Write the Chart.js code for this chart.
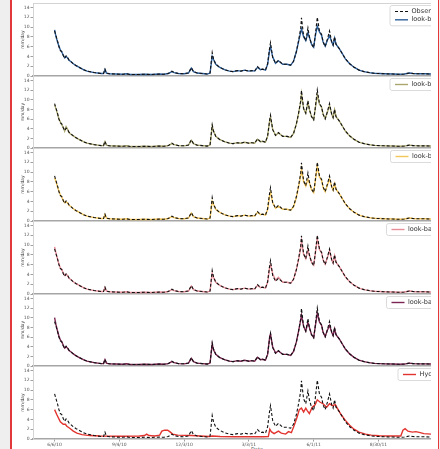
<!DOCTYPE html>
<html>
<head>
<meta charset="utf-8">
<script src="https://cdn.jsdelivr.net/npm/chart.js@4.4.1/dist/chart.umd.min.js"></script>
<style>
    html, body { margin: 0; padding: 0; width: 440px; height: 449px; overflow: hidden; background: #fff; }
    .strip { position: absolute; top: 0; height: 449px; background: #efefef; }
    .edge { position: absolute; top: 0; width: 1.5px; height: 449px; background: #e2383c; }
    .xtitle { position: absolute; left: 257px; top: 446px; transform: translateX(-50%); font: 5px 'DejaVu Sans'; color: #444; }
</style>
</head>
<body>
<div class="strip" style="left:0;width:10px"></div>
<div class="edge" style="left:10px"></div>
<div class="edge" style="left:437.5px"></div>
<div class="strip" style="left:439px;width:1px"></div>
<div class="xtitle">Date</div>
<script>
// x values are days counted from 6/6/10
const tickDays = [0, 90, 180, 270, 360, 450];
const tickLabels = ['6/6/10', '9/4/10', '12/3/10', '3/3/11', '6/1/11', '8/30/11'];
const yTicks = [0, 2, 4, 6, 8, 10, 12, 14];

const days = [
    0, 2, 4, 6, 8, 10, 12, 14, 16, 18,
    20, 23, 26, 30, 35, 40, 45, 50, 55, 60,
    65, 68, 70, 72, 76, 85, 95, 100, 105, 115,
    125, 135, 145, 152, 158, 163, 166, 172, 180, 186,
    190, 193, 198, 205, 212, 216, 219, 221, 224, 229,
    236, 243, 248, 254, 259, 264, 270, 274, 278, 282,
    286, 289, 293, 296, 299, 300, 303, 307, 311, 317,
    323, 328, 332, 336, 339, 342, 343, 346, 349, 352,
    354, 357, 360, 362, 365, 368, 371, 373, 376, 379,
    382, 385, 387, 389, 391, 396, 400, 404, 410, 416,
    423, 430, 437, 444, 458, 470, 479, 486, 493, 498,
    506, 515, 523
];

const observed = [
    9.2, 8.2, 7.2, 6.0, 5.2, 5.0, 4.2, 3.6, 4.1, 3.8,
    3.3, 2.9, 2.5, 2.1, 1.7, 1.3, 1.0, 0.85, 0.7, 0.6,
    0.5, 0.5, 1.4, 0.6, 0.45, 0.4, 0.35, 0.45, 0.3, 0.3,
    0.35, 0.3, 0.4, 0.35, 0.5, 1.0, 0.7, 0.5, 0.45, 0.6,
    1.7, 0.9, 0.6, 0.5, 0.4, 0.6, 4.8, 3.4, 2.4, 1.8,
    1.3, 1.0, 0.9, 1.1, 1.0, 1.2, 1.0, 1.1, 1.0, 1.9,
    1.3, 1.4, 1.2, 2.5, 6.0, 6.8, 3.8, 2.6, 3.2, 2.4,
    2.4, 2.2, 3.0, 5.0, 7.2, 9.8, 11.9, 8.2, 7.2, 9.8,
    8.0, 6.5, 5.8, 8.0, 12.0, 9.2, 8.5, 7.0, 6.0, 7.5,
    9.2, 7.0, 6.3, 8.0, 6.5, 5.5, 4.5, 3.5, 2.5, 1.8,
    1.2, 0.9, 0.7, 0.55, 0.45, 0.4, 0.35, 0.4, 0.6, 0.5,
    0.45, 0.45, 0.4
];

const lookBack1 = [
    9.4, 8.0, 7.0, 6.1, 5.3, 4.9, 4.3, 3.7, 4.0, 3.7,
    3.2, 2.9, 2.5, 2.1, 1.7, 1.3, 1.0, 0.85, 0.7, 0.6,
    0.5, 0.5, 1.3, 0.6, 0.45, 0.4, 0.35, 0.45, 0.3, 0.3,
    0.35, 0.3, 0.4, 0.35, 0.5, 0.9, 0.7, 0.5, 0.45, 0.6,
    1.6, 0.9, 0.6, 0.5, 0.4, 0.6, 4.0, 3.3, 2.4, 1.8,
    1.3, 1.0, 0.9, 1.1, 1.0, 1.2, 1.0, 1.1, 1.0, 1.8,
    1.3, 1.4, 1.2, 2.4, 5.6, 6.0, 3.9, 2.6, 3.1, 2.4,
    2.4, 2.2, 3.0, 5.0, 7.0, 9.0, 9.6, 8.0, 7.2, 8.8,
    7.9, 6.5, 5.9, 8.0, 10.2, 9.0, 8.3, 7.0, 6.1, 7.3,
    8.2, 7.0, 6.3, 7.7, 6.5, 5.5, 4.5, 3.5, 2.5, 1.8,
    1.2, 0.9, 0.7, 0.55, 0.45, 0.4, 0.35, 0.4, 0.6, 0.5,
    0.45, 0.45, 0.4
];

const lookBack2 = [
    8.9, 8.1, 7.1, 6.0, 5.4, 4.8, 4.3, 3.5, 4.4, 3.9,
    3.2, 2.8, 2.5, 2.1, 1.7, 1.3, 1.0, 0.85, 0.7, 0.6,
    0.5, 0.5, 1.3, 0.6, 0.45, 0.4, 0.35, 0.45, 0.3, 0.3,
    0.35, 0.3, 0.4, 0.35, 0.5, 0.9, 0.7, 0.5, 0.45, 0.6,
    1.6, 0.9, 0.6, 0.5, 0.4, 0.6, 4.4, 3.4, 2.4, 1.8,
    1.3, 1.0, 0.9, 1.1, 1.0, 1.2, 1.0, 1.1, 1.0, 1.8,
    1.3, 1.4, 1.2, 2.4, 5.8, 6.3, 3.9, 2.6, 3.1, 2.4,
    2.4, 2.2, 3.0, 5.0, 7.1, 9.6, 11.2, 8.1, 7.2, 9.4,
    8.0, 6.5, 5.9, 8.0, 11.0, 9.1, 8.4, 7.0, 6.1, 7.4,
    8.8, 7.0, 6.3, 7.9, 6.5, 5.5, 4.5, 3.5, 2.5, 1.8,
    1.2, 0.9, 0.7, 0.55, 0.45, 0.4, 0.35, 0.4, 0.6, 0.5,
    0.45, 0.45, 0.4
];

const lookBack3 = [
    8.8, 8.0, 7.0, 6.1, 5.3, 4.9, 4.2, 3.7, 3.9, 3.7,
    3.2, 2.9, 2.5, 2.1, 1.7, 1.3, 1.0, 0.85, 0.7, 0.6,
    0.5, 0.5, 1.3, 0.6, 0.45, 0.4, 0.35, 0.45, 0.3, 0.3,
    0.35, 0.3, 0.4, 0.35, 0.5, 0.9, 0.7, 0.5, 0.45, 0.6,
    1.6, 0.9, 0.6, 0.5, 0.4, 0.6, 4.0, 3.3, 2.4, 1.8,
    1.3, 1.0, 0.9, 1.1, 1.0, 1.2, 1.0, 1.1, 1.0, 1.8,
    1.3, 1.4, 1.2, 2.3, 5.5, 5.9, 3.7, 2.6, 3.0, 2.4,
    2.4, 2.2, 2.9, 4.8, 7.0, 9.3, 10.6, 8.0, 7.1, 8.5,
    7.8, 6.4, 5.8, 7.9, 11.2, 9.0, 8.3, 6.9, 6.0, 7.3,
    8.6, 7.0, 6.3, 7.6, 6.5, 5.5, 4.5, 3.5, 2.5, 1.8,
    1.2, 0.9, 0.7, 0.55, 0.45, 0.4, 0.35, 0.4, 0.6, 0.5,
    0.45, 0.45, 0.4
];

const lookBack4 = [
    9.6, 8.3, 7.2, 6.1, 5.3, 5.0, 4.3, 3.8, 4.0, 3.8,
    3.2, 2.9, 2.5, 2.1, 1.7, 1.3, 1.0, 0.85, 0.7, 0.6,
    0.5, 0.5, 1.3, 0.6, 0.45, 0.4, 0.35, 0.45, 0.3, 0.3,
    0.35, 0.3, 0.4, 0.35, 0.5, 0.9, 0.7, 0.5, 0.45, 0.6,
    1.6, 0.9, 0.6, 0.5, 0.4, 0.6, 4.2, 3.3, 2.4, 1.8,
    1.3, 1.0, 0.9, 1.1, 1.0, 1.2, 1.0, 1.1, 1.0, 1.8,
    1.3, 1.4, 1.2, 2.4, 5.7, 6.0, 4.2, 2.8, 3.4, 2.4,
    2.4, 2.2, 3.0, 5.0, 7.0, 9.4, 10.8, 8.1, 7.2, 9.0,
    7.9, 6.5, 5.9, 8.0, 11.3, 9.1, 8.4, 7.0, 6.1, 7.4,
    8.8, 7.0, 6.3, 7.8, 6.5, 5.5, 4.5, 3.5, 2.5, 1.8,
    1.2, 0.9, 0.7, 0.55, 0.45, 0.4, 0.35, 0.4, 0.6, 0.5,
    0.45, 0.45, 0.4
];

const lookBack5 = [
    10.0, 8.5, 7.3, 6.2, 5.4, 5.0, 4.3, 3.7, 4.0, 3.7,
    3.2, 2.9, 2.5, 2.1, 1.7, 1.3, 1.0, 0.85, 0.7, 0.6,
    0.5, 0.5, 1.3, 0.6, 0.45, 0.4, 0.35, 0.45, 0.3, 0.3,
    0.35, 0.3, 0.4, 0.35, 0.5, 0.9, 0.7, 0.5, 0.45, 0.6,
    1.6, 0.9, 0.6, 0.5, 0.4, 0.6, 4.5, 3.3, 2.4, 1.8,
    1.3, 1.0, 0.9, 1.1, 1.0, 1.2, 1.0, 1.1, 1.0, 1.8,
    1.3, 1.4, 1.2, 2.4, 6.2, 6.6, 4.0, 2.7, 3.1, 2.4,
    2.4, 2.2, 3.0, 5.0, 7.2, 9.6, 10.5, 8.2, 7.2, 9.0,
    8.0, 6.5, 5.9, 8.0, 11.0, 9.1, 8.4, 7.0, 6.1, 7.4,
    8.4, 7.0, 6.3, 7.7, 6.5, 5.5, 4.5, 3.5, 2.5, 1.8,
    1.2, 0.9, 0.7, 0.55, 0.45, 0.4, 0.35, 0.4, 0.6, 0.5,
    0.45, 0.45, 0.4
];

const hydroDays = [
    0, 3, 8, 12, 15, 17, 21, 26, 31, 38,
    49, 63, 91, 118, 125, 128, 131, 139, 146, 149,
    153, 157, 160, 164, 171, 181, 190, 202, 215, 219,
    230, 250, 270, 290, 297, 299, 301, 305, 311, 315,
    321, 325, 329, 333, 337, 340, 343, 346, 349, 351,
    354, 358, 362, 365, 369, 373, 378, 382, 386, 390,
    394, 398, 404, 410, 416, 423, 432, 440, 451, 465,
    479, 481, 484, 487, 491, 497, 502, 508, 513, 523
];

const hydro = [
    6.0, 5.0, 3.5, 3.0, 3.0, 2.6, 2.2, 1.6, 1.2, 0.9,
    0.7, 0.6, 0.55, 0.6, 0.7, 1.0, 0.7, 0.6, 0.8, 1.6,
    1.8, 1.8, 1.5, 1.0, 0.8, 0.75, 0.7, 0.6, 0.5, 0.6,
    0.5, 0.45, 0.45, 0.45, 0.5, 2.0, 1.5, 1.1, 1.6, 1.2,
    1.0, 1.5, 1.3, 2.8, 4.5, 6.0, 6.3, 5.5, 6.3, 5.8,
    5.2, 6.5, 7.0, 8.0, 7.5, 7.2, 6.5, 7.2, 6.8, 7.0,
    6.0, 5.0, 3.8, 2.8, 2.0, 1.4, 1.0, 0.8, 0.65, 0.6,
    0.6, 0.6, 1.8, 2.1, 1.6, 1.4, 1.5, 1.3, 1.1, 1.0
];

const panels = [
    { label: 'look-back 1 day', x: days, y: lookBack1, color: '#2c5e9a', obsInLegend: true, legendLeft: 390 },
    { label: 'look-back 2 days', x: days, y: lookBack2, color: '#aaa66e', legendLeft: 390 },
    { label: 'look-back 3 days', x: days, y: lookBack3, color: '#f4c65a', legendLeft: 390.5 },
    { label: 'look-back 4 days', x: days, y: lookBack4, color: '#e78d98', legendLeft: 386.5 },
    { label: 'look-back 5 days', x: days, y: lookBack5, color: '#7c2452', legendLeft: 386.5 },
    { label: 'Hydrologic model', x: hydroDays, y: hydro, color: '#e2342f', legendLeft: 398 }
];

const panelEdges = [3, 76, 148, 221, 294, 366, 439];
const FONT = 'DejaVu Sans';

const toPoints = (xs, ys) => xs.map((d, i) => ({ x: d, y: ys[i] }));

// matplotlib-like legend box, allowed to run past the canvas edge
const panelLegend = {
    id: 'panelLegend',
    afterDraw(chart, args, opts) {
        const ctx = chart.ctx;
        const items = chart.data.datasets
            .filter(d => d.legendRow !== undefined)
            .sort((a, b) => a.legendRow - b.legendRow);
        const rowH = 8.3;
        const h = 12 + (items.length - 1) * rowH;
        const x0 = opts.left, y0 = opts.top;
        ctx.save();
        ctx.beginPath();
        ctx.roundRect(x0, y0, 110, h, 2);
        ctx.fillStyle = 'rgba(255,255,255,0.85)';
        ctx.fill();
        ctx.strokeStyle = '#d2d2d2';
        ctx.lineWidth = 0.8;
        ctx.stroke();
        ctx.font = `6.5px '${FONT}'`;
        ctx.textBaseline = 'middle';
        items.forEach((d, i) => {
            const y = y0 + 6 + i * rowH;
            ctx.beginPath();
            ctx.setLineDash(d.borderDash || []);
            ctx.strokeStyle = d.borderColor;
            ctx.lineWidth = d.borderWidth;
            ctx.moveTo(x0 + 5, y);
            ctx.lineTo(x0 + 18, y);
            ctx.stroke();
            ctx.setLineDash([]);
            ctx.fillStyle = '#333';
            ctx.fillText(d.label, x0 + 21.5, y);
        });
        ctx.restore();
    }
};

panels.forEach((p, k) => {
    const last = k === panels.length - 1;
    const top = panelEdges[k];
    const bottom = panelEdges[k + 1];
    const canvasTop = top - 4;
    const canvasH = last ? 95 : (bottom - top) + 8;

    const cv = document.createElement('canvas');
    cv.width = 420;
    cv.height = canvasH;
    cv.style.cssText = `position:absolute;left:11px;top:${canvasTop}px;width:420px;height:${canvasH}px;`;
    document.body.appendChild(cv);

    const obsSet = {
        label: 'Observed',
        data: toPoints(days, observed),
        borderColor: '#111',
        borderWidth: 1.1,
        borderDash: [3, 2],
        pointRadius: 0,
        fill: false
    };
    if (p.obsInLegend) obsSet.legendRow = 0;

    const modelSet = {
        label: p.label,
        data: toPoints(p.x, p.y),
        borderColor: p.color,
        borderWidth: 1.4,
        pointRadius: 0,
        fill: false,
        legendRow: 1
    };

    new Chart(cv.getContext('2d'), {
        type: 'line',
        data: { datasets: [obsSet, modelSet] },
        plugins: [panelLegend],
        options: {
            responsive: false,
            animation: false,
            events: [],
            layout: { padding: { top: 4, bottom: last ? 0 : 4, left: 0, right: 0 } },
            plugins: {
                legend: { display: false },
                tooltip: { enabled: false },
                panelLegend: { left: p.legendLeft - 11, top: top + 2.5 - canvasTop }
            },
            scales: {
                x: {
                    type: 'linear',
                    min: -30,
                    max: 523,
                    afterBuildTicks: s => { s.ticks = tickDays.map(v => ({ value: v })); },
                    afterFit: s => { s.height = last ? 18 : 0; },
                    ticks: {
                        display: last,
                        autoSkip: false,
                        maxRotation: 0,
                        padding: 0.5,
                        color: '#555',
                        font: { family: FONT, size: 4.5 },
                        callback: v => tickLabels[tickDays.indexOf(v)]
                    },
                    grid: { display: last, drawOnChartArea: false, tickLength: 2.5, color: '#777', tickWidth: 0.7 },
                    border: { display: true, color: '#a6a6a6', width: 1.5 }
                },
                xTop: {
                    type: 'linear',
                    position: 'top',
                    display: k === 0,
                    afterFit: s => { s.height = 0; },
                    ticks: { display: false },
                    grid: { display: false },
                    border: { display: true, color: '#d4d4d4', width: 1 }
                },
                y: {
                    min: 0,
                    max: 14.9,
                    afterBuildTicks: s => { s.ticks = yTicks.map(v => ({ value: v })); },
                    afterFit: s => { s.width = 22; },
                    ticks: { color: '#555', padding: 1, font: { family: FONT, size: 4.5 } },
                    grid: { display: true, drawOnChartArea: false, tickLength: 2.5, color: '#777', tickWidth: 0.7 },
                    border: { display: true, color: '#d4d4d4', width: 1 },
                    title: {
                        display: true,
                        text: 'mm/day',
                        color: '#444',
                        font: { family: FONT, size: 4.5 },
                        padding: { top: 8.7, bottom: 0 }
                    }
                }
            }
        }
    });
});
</script>
</body>
</html>
